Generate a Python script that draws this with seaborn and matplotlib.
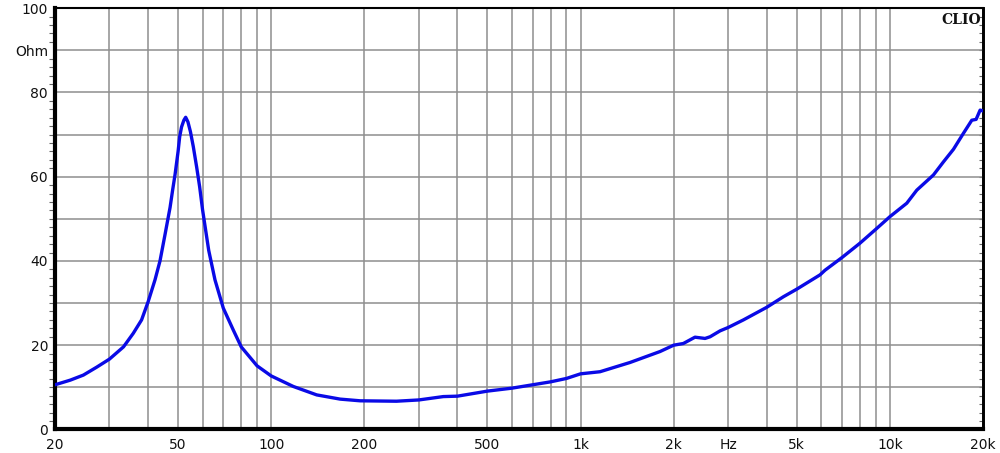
import numpy as np
import pandas as pd
import matplotlib
matplotlib.use("Agg")
import matplotlib.pyplot as plt
from matplotlib.ticker import FixedLocator, MultipleLocator, NullFormatter
import seaborn as sns


# =========================
# Data
# =========================

freq_hz = [20, 22.4, 24.7, 27.3, 30, 33.3, 35.8, 38.1, 40, 42.1, 43.7, 45.4,
           47.1, 48.0, 48.9, 50.0, 50.6, 51.3, 52.2, 52.9, 53.8, 54.8, 56.0,
           57.4, 58.7, 60, 62.8, 65.8, 70, 75.4, 80, 90, 100, 117.9, 140.3,
           167, 193.7, 254, 300, 360, 400, 500, 600, 700, 800, 900,
           1000, 1156, 1446, 1808, 2000, 2149, 2344, 2526, 2623, 2825, 3000,
           3361, 4000, 4527, 5000, 5947, 6172, 7000, 8000, 9000, 10000, 11340,
           12217, 13827, 14894, 16051, 17290, 18400, 19000, 19576, 20000]
impedance_ohm = [10.6, 11.7, 12.9, 14.8, 16.7, 19.6, 22.8, 26.0, 30.3, 35.5,
                 40.0, 46.4, 52.7, 56.8, 60.6, 66.0, 69.5, 71.8, 73.4, 74.1,
                 73.0, 70.7, 67.1, 62.3, 57.6, 52.1, 42.5, 35.5, 28.8, 23.6,
                 19.6, 15.1, 12.7, 10.2, 8.2, 7.2, 6.8, 6.7,
                 7.0, 7.8, 7.9, 9.1, 9.8, 10.6, 11.3, 12.1, 13.2, 13.7, 15.9,
                 18.5, 20.0, 20.4, 21.9, 21.6, 22.0, 23.4, 24.2, 26.0, 29.0,
                 31.5, 33.3, 36.7, 37.8, 40.8, 44.2, 47.5, 50.5, 53.7, 56.8,
                 60.4, 63.5, 66.5, 70.3, 73.4, 73.6, 75.8, 75.6]

x_grid = [30, 40, 50, 60, 70, 80, 90, 100, 200, 300, 400, 500, 600, 700, 800,
          900, 1000, 2000, 3000, 4000, 5000, 6000, 7000, 8000, 9000, 10000]
x_tick_pos = [20, 50, 100, 200, 500, 1000, 2000, 3000, 5000, 10000, 20000]
x_tick_lab = ["20", "50", "100", "200", "500", "1k", "2k", "Hz", "5k", "10k", "20k"]
y_tick_pos = [0, 20, 40, 60, 80, 90, 100]
y_tick_lab = ["0", "20", "40", "60", "80", "Ohm", "100"]

# =========================
# Plot
# =========================

sns.set_style("white")
plt.rcParams["font.family"] = ["DejaVu Sans"]

df = pd.DataFrame({"freq": freq_hz, "ohm": impedance_ohm})

fig = plt.figure(figsize=(10, 4.53), dpi=100)
ax = fig.add_axes([0.055, 0.052, 0.928, 0.930])

# grid
for f in x_grid:
    ax.axvline(f, color="#8e8e8e", lw=1.1, zorder=1)
for o in range(10, 100, 10):
    ax.axhline(o, color="#8e8e8e", lw=1.1, zorder=1)

sns.lineplot(data=df, x="freq", y="ohm", ax=ax, color="#0a0ae6", lw=2.4,
             estimator=None, sort=True, zorder=3)

ax.set_xscale("log")
ax.set_xlim(20, 20000)
ax.set_ylim(0, 100)
ax.set_xlabel("")
ax.set_ylabel("")

ax.xaxis.set_major_locator(FixedLocator(x_tick_pos))
ax.xaxis.set_minor_locator(FixedLocator([]))
ax.set_xticklabels(x_tick_lab)
ax.xaxis.set_minor_formatter(NullFormatter())
ax.tick_params(axis="x", length=0, pad=6, labelsize=10, labelcolor="#111111")

ax.yaxis.set_major_locator(FixedLocator(y_tick_pos))
ax.set_yticklabels(y_tick_lab)
ax.yaxis.set_minor_locator(MultipleLocator(2))
ax.tick_params(axis="y", which="major", length=0, pad=5, labelsize=10,
               labelcolor="#111111")
ax.tick_params(axis="y", which="minor", left=True, direction="out",
               length=4, width=0.8, color="#666666")

# inward ticks on the right border
sec = ax.secondary_yaxis("right")
sec.yaxis.set_major_locator(MultipleLocator(2))
sec.tick_params(direction="in", length=3, width=0.8, color="#666666",
                labelright=False)
sec.spines["right"].set_linewidth(2)

ax.spines["left"].set_linewidth(3)
ax.spines["bottom"].set_linewidth(3)
ax.spines["top"].set_linewidth(1.5)
ax.spines["right"].set_linewidth(2)
for s in ax.spines.values():
    s.set_color("black")

ax.text(0.998, 0.988, "CLIO", transform=ax.transAxes, ha="right", va="top",
        fontsize=10, fontweight="bold", family="DejaVu Serif", color="#111111")

fig.savefig("out.png", dpi=100)
plt.close(fig)
